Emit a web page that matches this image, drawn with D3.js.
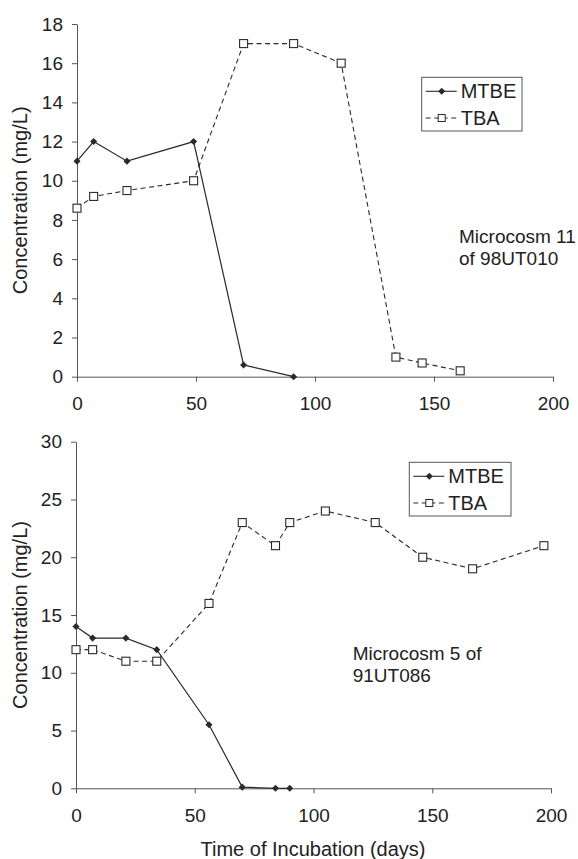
<!DOCTYPE html>
<html><head><meta charset="utf-8">
<script src="https://cdn.jsdelivr.net/npm/d3@7"></script>
<style>
html,body{margin:0;padding:0;background:#fff;}
svg{display:block;font-family:"Liberation Sans",Arial,sans-serif;}
</style></head>
<body>
<svg id="c" width="578" height="859"></svg>
<script>
// ---- data ----
const xTicks = [0, 50, 100, 150, 200];
const topYTicks = [0, 2, 4, 6, 8, 10, 12, 14, 16, 18];
const botYTicks = [0, 5, 10, 15, 20, 25, 30];

const topMtbeDays = [0, 7, 21, 49, 70, 91];
const topMtbeVals = [11, 12, 11, 12, 0.6, 0];
const topTbaDays = [0, 7, 21, 49, 70, 91, 111, 134, 145, 161];
const topTbaVals = [8.6, 9.2, 9.5, 10, 17, 17, 16, 1, 0.7, 0.3];

const botMtbeDays = [0, 7, 21, 34, 56, 70, 84, 90];
const botMtbeVals = [14, 13, 13, 12, 5.5, 0.1, 0, 0];
const botTbaDays = [0, 7, 21, 34, 56, 70, 84, 90, 105, 126, 146, 167, 197];
const botTbaVals = [12, 12, 11, 11, 16, 23, 21, 23, 24, 23, 20, 19, 21];

const seriesNames = ["MTBE", "TBA"];
const yLabel = "Concentration (mg/L)";
const xLabel = "Time of Incubation (days)";
const topNote = ["Microcosm 11", "of 98UT010"];
const botNote = ["Microcosm 5 of", "91UT086"];

// ---- drawing ----
const svg = d3.select("#c");
const lineCol = "#2a2a2a", axisCol = "#555", textCol = "#222";

function panel(cfg) {
  const x = d3.scaleLinear().domain([0, 200]).range([cfg.x0, cfg.x1]);
  const y = d3.scaleLinear().domain([0, cfg.yMax]).range([cfg.yb, cfg.yt]);
  const g = svg.append("g");

  const xa = g.append("g").attr("transform", `translate(0,${cfg.yb})`)
    .call(d3.axisBottom(x).tickValues(xTicks).tickSize(5).tickPadding(15).tickSizeOuter(0));
  const ya = g.append("g").attr("transform", `translate(${cfg.x0},0)`)
    .call(d3.axisLeft(y).tickValues(cfg.yTicks).tickSize(5).tickPadding(9).tickSizeOuter(0));
  [xa, ya].forEach(a => {
    a.selectAll("path,line").attr("stroke", axisCol).attr("stroke-width", 1);
    a.selectAll("text").attr("fill", textCol).style("font-size", "19px");
  });

  g.append("text")
    .attr("transform", `translate(27,${(cfg.yb + cfg.yt) / 2}) rotate(-90)`)
    .attr("text-anchor", "middle").attr("fill", textCol).style("font-size", "20px")
    .text(yLabel);

  const ln = d3.line().x(d => x(d[0])).y(d => y(d[1]));
  const tba = cfg.tbaDays.map((d, i) => [d, cfg.tbaVals[i]]);
  const mtbe = cfg.mtbeDays.map((d, i) => [d, cfg.mtbeVals[i]]);

  g.append("path").datum(tba).attr("d", ln).attr("fill", "none")
    .attr("stroke", lineCol).attr("stroke-width", 1.1).attr("stroke-dasharray", "5,3.5");
  g.append("path").datum(mtbe).attr("d", ln).attr("fill", "none")
    .attr("stroke", lineCol).attr("stroke-width", 1.2);

  g.selectAll(".sq").data(tba).join("rect")
    .attr("x", d => x(d[0]) - 4).attr("y", d => y(d[1]) - 4)
    .attr("width", 8).attr("height", 8)
    .attr("fill", "#fff").attr("stroke", lineCol).attr("stroke-width", 1.1);
  const dia = d3.symbol().type(d3.symbolDiamond2).size(32);
  g.selectAll(".dm").data(mtbe).join("path")
    .attr("transform", d => `translate(${x(d[0])},${y(d[1])})`)
    .attr("d", dia).attr("fill", lineCol);

  // legend
  const L = g.append("g").attr("transform", `translate(${cfg.lx},${cfg.ly})`);
  L.append("rect").attr("width", cfg.lw).attr("height", 53.7)
    .attr("fill", "#fff").attr("stroke", axisCol).attr("stroke-width", 1);
  seriesNames.forEach((nm, i) => {
    const by = 21 + i * 26.7, my = by - 7;
    L.append("line").attr("x1", 4).attr("x2", 35).attr("y1", my).attr("y2", my)
      .attr("stroke", lineCol).attr("stroke-width", 1.1)
      .attr("stroke-dasharray", i === 1 ? "5,3.5" : null);
    if (i === 0) {
      L.append("path").attr("transform", `translate(20,${my})`).attr("d", dia).attr("fill", lineCol);
    } else {
      L.append("rect").attr("x", 16.5).attr("y", my - 3.5).attr("width", 7).attr("height", 7)
        .attr("fill", "#fff").attr("stroke", lineCol).attr("stroke-width", 1);
    }
    L.append("text").attr("x", 39).attr("y", by).attr("fill", textCol)
      .style("font-size", "20px").text(nm);
  });

  cfg.note.forEach((t, i) => {
    g.append("text").attr("x", cfg.nx).attr("y", cfg.ny + i * 22.3)
      .attr("fill", textCol).style("font-size", "19px").text(t);
  });
}

panel({
  x0: 77, x1: 553, yb: 376.7, yt: 24, yMax: 18, yTicks: topYTicks,
  mtbeDays: topMtbeDays, mtbeVals: topMtbeVals, tbaDays: topTbaDays, tbaVals: topTbaVals,
  lx: 421.7, ly: 77.3, lw: 100.3, note: topNote, nx: 459, ny: 242.7
});
panel({
  x0: 76, x1: 551, yb: 788.3, yt: 441.7, yMax: 30, yTicks: botYTicks,
  mtbeDays: botMtbeDays, mtbeVals: botMtbeVals, tbaDays: botTbaDays, tbaVals: botTbaVals,
  lx: 409.3, ly: 462.3, lw: 101.7, note: botNote, nx: 352.7, ny: 660
});

svg.append("text").attr("x", 313).attr("y", 855.5).attr("text-anchor", "middle")
  .attr("fill", textCol).style("font-size", "20px").text(xLabel);
</script>
</body></html>
